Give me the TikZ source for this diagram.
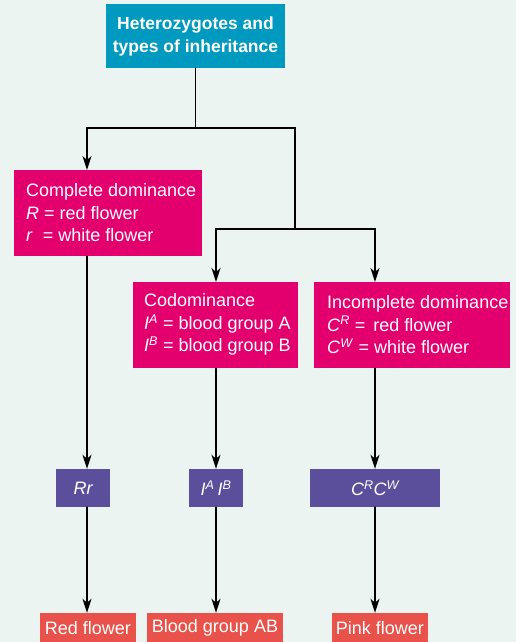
\documentclass[tikz,border=0pt]{standalone}
\usepackage{fontspec}
\setmainfont{Liberation Sans}
\usepackage{tikz}
\usetikzlibrary{arrows.meta}
\usepackage{xcolor}

\definecolor{bgmint}{HTML}{EBF4F1}
\definecolor{topteal}{HTML}{0099BF}
\definecolor{typemag}{HTML}{E3006E}
\definecolor{genopurple}{HTML}{5B4F9B}
\definecolor{phenored}{HTML}{E9524A}

\newcommand{\allele}[2]{\textit{#1}\textsuperscript{\textit{#2}}}

\tikzset{
  typebox/.style={fill=typemag,anchor=north west,minimum height=86pt,inner sep=0pt},
  typetext/.style={text=white,anchor=west,inner sep=0pt,align=left,font=\fontsize{18}{22.5}\selectfont},
  genobox/.style={fill=genopurple,text=white,minimum height=38pt,inner sep=0pt,font=\fontsize{18}{20}\selectfont\itshape},
  phenobox/.style={fill=phenored,text=white,minimum height=30pt,inner sep=0pt,font=\fontsize{18}{20}\selectfont},
  link/.style={black,line width=1.5pt}
}

\begin{document}
\begin{tikzpicture}[x=1pt,y=-1pt,>={Stealth[length=14pt,width=9pt,inset=4pt]},line cap=round]
\fill[bgmint] (0,0) rectangle (516,642);
\useasboundingbox (0,0) rectangle (516,642);
% top box
\node[fill=topteal,text=white,minimum width=179pt,minimum height=64pt,inner sep=0pt,align=center,font=\fontsize{17.5}{23}\selectfont\bfseries] (top) at (195.5,36) {Heterozygotes and\\types of inheritance};
% types of inheritance
\node[typebox,minimum width=188pt] (comp) at (14,170) {};
\node[typetext] (compText) at ([xshift=12pt,yshift=0.5pt]comp.west) {Complete dominance\\\textit{R} = red flower\\\textit{r}\ \ = white flower};
\node[typebox,minimum width=165pt] (codom) at (133,282) {};
\node[typetext] (codomText) at ([xshift=11pt,yshift=0.5pt]codom.west) {Codominance\\\allele{I}{A} = blood group A\\\allele{I}{B} = blood group B};
\node[typebox,minimum width=196pt] (incomp) at (314,282) {};
\node[typetext] (incompText) at ([xshift=13pt,yshift=0.5pt]incomp.west) {Incomplete dominance\\\allele{C}{R} =\ \,red flower\\\allele{C}{W} = white flower};
% genotypes
\node[genobox,minimum width=54pt] (rr) at (83,488) {Rr};
\node[genobox,minimum width=54pt] (iaib) at (216,488) {I\textsuperscript{A}\,I\textsuperscript{B}};
\node[genobox,minimum width=130pt] (crcw) at (375,488) {C\textsuperscript{R}C\textsuperscript{W}};
% phenotypes
\node[phenobox,minimum width=96pt] (redfl) at (88,628) {Red flower};
\node[phenobox,minimum width=136pt] (bgab) at (215,628) {Blood group AB};
\node[phenobox,minimum width=96pt] (pinkfl) at (380,628) {Pink flower};
% columns and junctions
\coordinate (colA) at (87,0);
\coordinate (colB) at (216,0);
\coordinate (colC) at (375,0);
\coordinate (split1) at (195.5,128);
\coordinate (right1) at (295,128);
\coordinate (split2) at (295,229);
% connectors
\draw[link] (top.south) -- (split1);
\draw[link,->] (split1) -| (comp.north -| colA);
\draw[link] (split1) -- (right1) -- (split2);
\draw[link,->] (split2) -| (codom.north -| colB);
\draw[link,->] (split2) -| (incomp.north -| colC);
\draw[link,->] (comp.south -| colA) -- (rr.north -| colA);
\draw[link,->] (codom.south -| colB) -- (iaib.north -| colB);
\draw[link,->] (incomp.south -| colC) -- (crcw.north -| colC);
\draw[link,->] (rr.south -| colA) -- (redfl.north -| colA);
\draw[link,->] (iaib.south -| colB) -- (bgab.north -| colB);
\draw[link,->] (crcw.south -| colC) -- (pinkfl.north -| colC);
\end{tikzpicture}
\end{document}
